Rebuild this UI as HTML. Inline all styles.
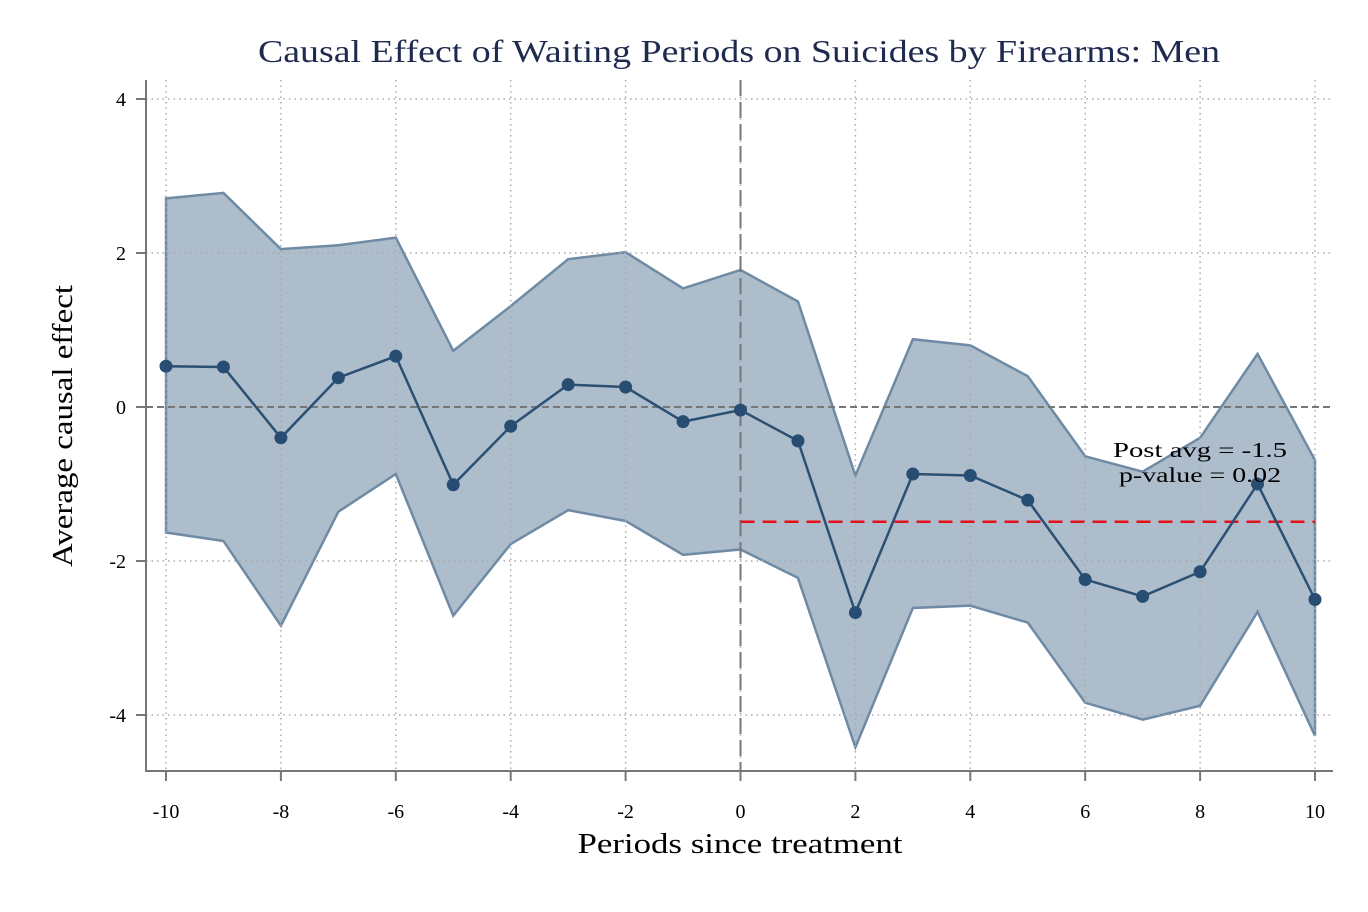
<!DOCTYPE html>
<html><head><meta charset="utf-8"><style>
body{margin:0;background:#fff;}
svg{display:block;font-family:"Liberation Serif",serif;}
</style></head><body>
<svg id="chart" width="1368" height="912">
<rect width="1368" height="912" fill="#fff"/>
<g id="fillg"></g><g id="grid"></g><g id="lines"></g><g id="axes"></g>
<text x="739" y="62" text-anchor="middle" font-size="32" fill="#1f2a4f" textLength="962" lengthAdjust="spacingAndGlyphs">Causal Effect of Waiting Periods on Suicides by Firearms: Men</text>
<text x="740" y="853" text-anchor="middle" font-size="28" fill="#000" textLength="325" lengthAdjust="spacingAndGlyphs">Periods since treatment</text>
<text transform="translate(72,426) rotate(-90)" text-anchor="middle" font-size="28" fill="#000" textLength="282" lengthAdjust="spacingAndGlyphs">Average causal effect</text>
</svg>
<script>
const periods=[-10,-9,-8,-7,-6,-5,-4,-3,-2,-1,0,1,2,3,4,5,6,7,8,9,10];
const estimates=[0.53,0.52,-0.40,0.38,0.66,-1.01,-0.25,0.29,0.26,-0.19,-0.04,-0.44,-2.67,-0.87,-0.89,-1.21,-2.24,-2.46,-2.14,-1.0,-2.50];
const upper=[2.71,2.78,2.05,2.10,2.20,0.73,1.31,1.92,2.01,1.54,1.78,1.37,-0.89,0.88,0.80,0.40,-0.64,-0.84,-0.40,0.69,-0.69];
const lower=[-1.63,-1.74,-2.84,-1.36,-0.87,-2.71,-1.78,-1.34,-1.48,-1.92,-1.85,-2.22,-4.42,-2.61,-2.58,-2.80,-3.84,-4.06,-3.88,-2.66,-4.27];
const xTicks=[-10,-8,-6,-4,-2,0,2,4,6,8,10];
const yTicks=[4,2,0,-2,-4];
const postAvg=-1.49;
const X=v=>166+(v+10)*(1315-166)/20;
const Y=v=>407-v*(407-99)/4;
const NS='http://www.w3.org/2000/svg';
function mk(p,t,a){const e=document.createElementNS(NS,t);for(const k in a)e.setAttribute(k,a[k]);document.getElementById(p).appendChild(e);return e;}
let pts=periods.map((p,i)=>X(p)+','+Y(upper[i])).concat(periods.slice().reverse().map((p,j)=>{const i=periods.length-1-j;return X(p)+','+Y(lower[i]);}));
const band=mk('fillg','polygon',{points:pts.join(' '),fill:'#adbdcb',stroke:'#6e8aa5','stroke-width':2.5});


xTicks.forEach(t=>{const g=mk('grid','line',{x1:X(t),x2:X(t),y1:80,y2:771,stroke:'#aaa','stroke-width':1.5,'stroke-dasharray':'1.5 4'});

});
yTicks.forEach(t=>{const g=mk('grid','line',{x1:146,x2:1333,y1:Y(t),y2:Y(t),stroke:'#aaa','stroke-width':1.5,'stroke-dasharray':'1.5 4'});

});
const z=mk('lines','line',{x1:146,x2:1333,y1:Y(0),y2:Y(0),stroke:'#777','stroke-width':2,'stroke-dasharray':'7 4'});


const v=mk('lines','line',{x1:X(0),x2:X(0),y1:80,y2:771,stroke:'#777','stroke-width':2,'stroke-dasharray':'16 6'});


const pa=mk('lines','line',{x1:X(0),x2:X(10),y1:Y(postAvg),y2:Y(postAvg),stroke:'#e4111b','stroke-width':2.5,'stroke-dasharray':'14 8'});


const pl=mk('lines','polyline',{points:periods.map((p,i)=>X(p)+','+Y(estimates[i])).join(' '),fill:'none',stroke:'#2c5073','stroke-width':2.5});


periods.forEach((p,i)=>{const c=mk('lines','circle',{cx:X(p),cy:Y(estimates[i]),r:6.5,fill:'#284d72'});

});
const t1=mk('lines','text',{x:1200,y:457,'text-anchor':'middle','font-size':21,textLength:174,lengthAdjust:'spacingAndGlyphs'});t1.textContent='Post avg = -1.5';


const t2=mk('lines','text',{x:1200,y:482,'text-anchor':'middle','font-size':21,textLength:162,lengthAdjust:'spacingAndGlyphs'});t2.textContent='p-value = 0.02';


const ax=mk('axes','path',{d:'M146,80 V771 H1333',fill:'none',stroke:'#777','stroke-width':2});


xTicks.forEach(t=>{mk('axes','line',{x1:X(t),x2:X(t),y1:771,y2:781,stroke:'#777','stroke-width':2});
const l=mk('axes','text',{x:X(t),y:818,'text-anchor':'middle','font-size':20});l.textContent=t;

});
yTicks.forEach(t=>{mk('axes','line',{x1:136,x2:146,y1:Y(t),y2:Y(t),stroke:'#777','stroke-width':2});
const l=mk('axes','text',{x:126,y:Y(t)+7,'text-anchor':'end','font-size':20});l.textContent=t;

});
</script>
</body></html>
